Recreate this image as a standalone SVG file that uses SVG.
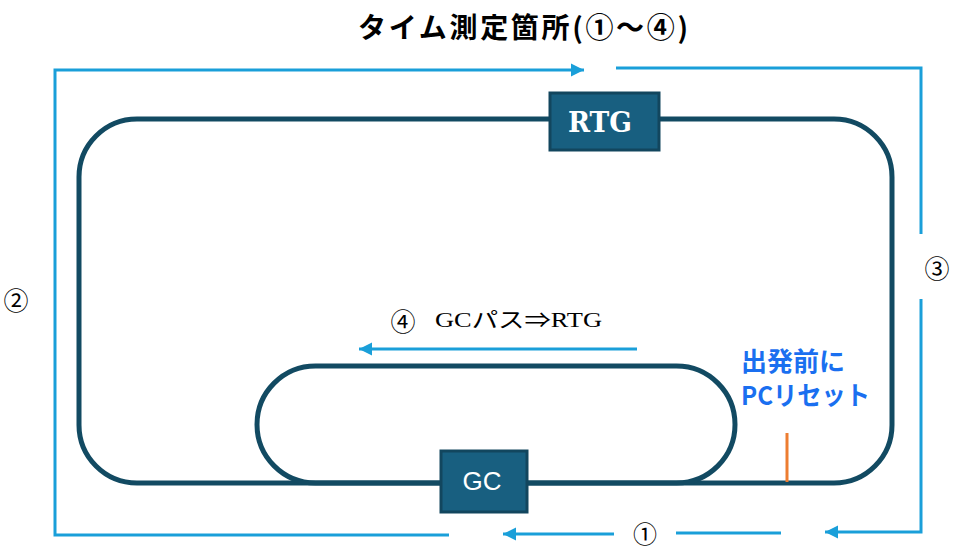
<svg xmlns="http://www.w3.org/2000/svg" width="957" height="548" viewBox="0 0 957 548">
<defs>
<marker id="ah" markerUnits="userSpaceOnUse" markerWidth="14" markerHeight="14" refX="13" refY="7" orient="auto">
<path d="M0,0.5 L13,7 L0,13.5 Z" fill="#1a9fd9"/>
</marker>
<style>
.track{fill:none;stroke:#124a62;stroke-width:5}
.conn{fill:none;stroke:#1a9fd9;stroke-width:3}
.box{fill:#185f80;stroke:#12465e;stroke-width:3}
.num{font-family:"Noto Sans CJK JP","Noto Sans",sans-serif;font-size:25px;fill:#000;text-anchor:middle;dominant-baseline:central}
</style>
</defs>
<rect width="957" height="548" fill="#fff"/>
<text x="358" y="38" font-family="'Noto Sans CJK JP', sans-serif" font-size="28" font-weight="bold" textLength="330" lengthAdjust="spacing" fill="#000">タイム測定箇所(①～④)</text>
<g id="tracks">
<rect class="track" x="79" y="119" width="813" height="364" rx="58" ry="58"/>
<rect class="track" x="257" y="366" width="478" height="117" rx="58.5" ry="58.5"/>
</g>
<g id="connectors">
<path class="conn" d="M449,535 L55,535 L55,70 L584,70" marker-end="url(#ah)"/>
<path class="conn" d="M616,68 L921,68 L921,234"/>
<path class="conn" d="M921,299 L921,532 L825,532" marker-end="url(#ah)"/>
<path class="conn" d="M781,533 L676,533"/>
<path class="conn" d="M614,534 L503,534" marker-end="url(#ah)"/>
<path class="conn" d="M637,349 L359,349" marker-end="url(#ah)"/>
<line x1="787" y1="433" x2="787" y2="482" stroke="#ed7d31" stroke-width="3"/>
</g>
<g id="RTG">
<rect class="box" x="550" y="93" width="109" height="57"/>
<text x="568" y="132" font-family="'DejaVu Serif', 'Liberation Serif', serif" font-weight="bold" font-size="27" textLength="64" lengthAdjust="spacingAndGlyphs" fill="#fff">RTG</text>
</g>
<g id="GC">
<rect class="box" x="441" y="451" width="86" height="61"/>
<text x="482" y="490" font-family="'Liberation Sans', sans-serif" font-size="26" text-anchor="middle" fill="#fff">GC</text>
</g>
<g id="labels">
<text class="num" x="645" y="532" font-size="24" style="font-size:24px">①</text>
<text class="num" x="16" y="299">②</text>
<text class="num" x="937" y="267">③</text>
<text class="num" x="403" y="320">④</text>
<text x="435" y="327" font-family="'Liberation Serif', 'Noto Sans CJK JP', serif" font-size="21" textLength="167" lengthAdjust="spacingAndGlyphs" fill="#000">GCパス⇒RTG</text>
<text font-family="'Noto Sans CJK JP', sans-serif" font-weight="bold" font-size="26" fill="#1a6ff0">
<tspan x="741" y="371">出発前に</tspan>
<tspan x="741" y="405" textLength="129" lengthAdjust="spacingAndGlyphs">PCリセット</tspan>
</text>
</g>
</svg>
